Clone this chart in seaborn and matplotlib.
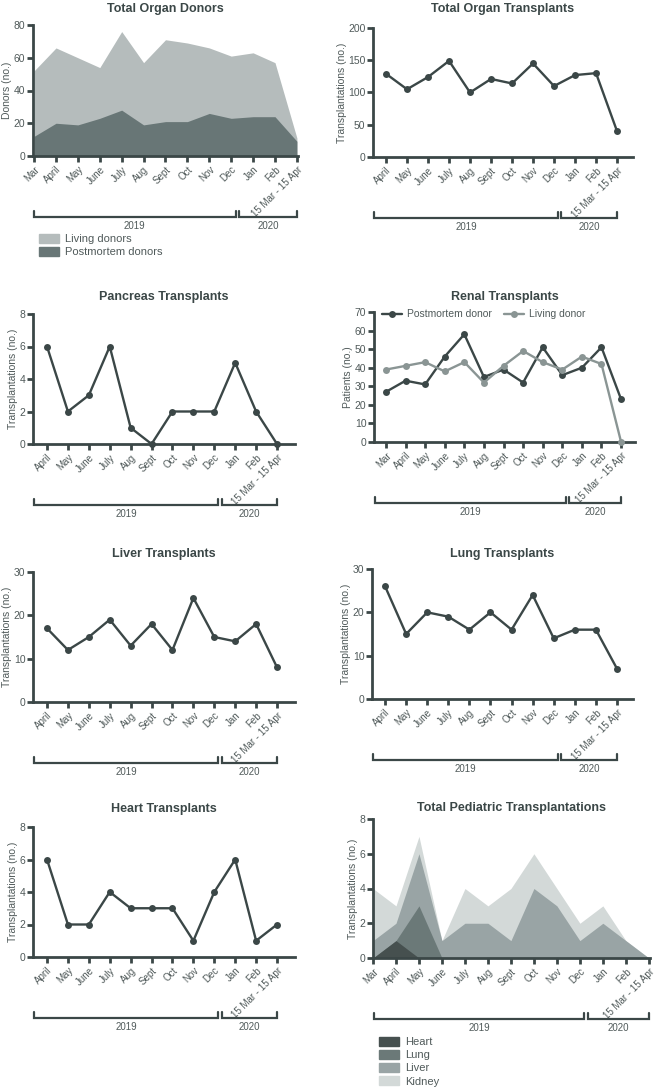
import numpy as np
import pandas as pd
import matplotlib
matplotlib.use("Agg")
import matplotlib.pyplot as plt
from matplotlib import transforms
from matplotlib.patches import Patch
import seaborn as sns

months13 = ["Mar", "April", "May", "June", "July", "Aug", "Sept", "Oct",
            "Nov", "Dec", "Jan", "Feb", "15 Mar - 15 Apr"]
months12 = months13[1:]

donors_postmortem = [12, 20, 19, 23, 28, 19, 21, 21, 26, 23, 24, 24, 9]
donors_living = [40, 46, 41, 31, 48, 38, 50, 48, 40, 38, 39, 33, 2]

total_transplants = [129, 105, 124, 149, 100, 121, 114, 145, 110, 127, 130, 40]
pancreas = [6, 2, 3, 6, 1, 0, 2, 2, 2, 5, 2, 0]
renal_postmortem = [27, 33, 31, 46, 58, 35, 39, 32, 51, 36, 40, 51, 23]
renal_living = [39, 41, 43, 38, 43, 32, 41, 49, 43, 39, 46, 42, 0]
liver = [17, 12, 15, 19, 13, 18, 12, 24, 15, 14, 18, 8]
lung = [26, 15, 20, 19, 16, 20, 16, 24, 14, 16, 16, 7]
heart = [6, 2, 2, 4, 3, 3, 3, 1, 4, 6, 1, 2]

ped_heart = [0, 1, 0, 0, 0, 0, 0, 0, 0, 0, 0, 0, 0]
ped_lung = [0, 0, 3, 0, 0, 0, 0, 0, 0, 0, 0, 0, 0]
ped_liver = [1, 1, 3, 1, 2, 2, 1, 4, 3, 1, 2, 1, 0]
ped_kidney = [3, 1, 1, 0, 2, 1, 3, 2, 1, 1, 1, 0, 0]

DARK = "#3b4747"
TEXT = "#505a5a"
GRAY_LINE = "#8a9594"
LIVING_C = "#b5bcbc"
POST_C = "#687676"
PED_C = ["#46504f", "#6b7978", "#99a4a5", "#d3d9d8"]

sns.set_style("ticks")
plt.rcParams["font.family"] = ["Liberation Sans", "DejaVu Sans"]
plt.rcParams["text.color"] = TEXT
plt.rcParams["axes.labelcolor"] = TEXT
plt.rcParams["xtick.color"] = DARK
plt.rcParams["ytick.color"] = DARK
plt.rcParams["xtick.labelcolor"] = TEXT
plt.rcParams["ytick.labelcolor"] = TEXT

W, H = 655, 1089
fig = plt.figure(figsize=(W / 100, H / 100), dpi=100)


def make_ax(l, t, r, b):
    ax = fig.add_axes([l / W, 1 - b / H, (r - l) / W, (b - t) / H])
    ax.h_px = b - t
    return ax


def style(ax, labels, title, ylabel, yticks, xlim, pad):
    sns.despine(ax=ax)
    for s in ["left", "bottom"]:
        ax.spines[s].set_linewidth(2)
        ax.spines[s].set_color(DARK)
        ax.spines[s].set_zorder(5)
    ax.tick_params(width=2, length=4, labelsize=7.5)
    ax.set_xticks(range(len(labels)))
    ax.set_xticklabels(labels, rotation=45, ha="right", rotation_mode="anchor", fontsize=7)
    ax.tick_params(axis="x", pad=2)
    ax.tick_params(axis="y", pad=1.5)
    ax.set_yticks(yticks)
    ax.set_ylim(0, yticks[-1])
    ax.set_xlim(*xlim)
    ax.set_xlabel("")
    ax.set_ylabel(ylabel, fontsize=7.5, labelpad=1)
    ax.set_title(title, fontsize=9, fontweight="bold", color=DARK, pad=pad * 0.72)


def brackets(ax, n):
    trans = transforms.blended_transform_factory(ax.transData, ax.transAxes)
    h = ax.h_px
    yb, yt, yl = -61 / h, -55 / h, -70 / h
    dec = n - 4
    spans = [(ax.get_xlim()[0] + 0.05, dec + 0.2, "2019"), (dec + 0.35, n - 1, "2020")]
    for x0, x1, lab in spans:
        ax.plot([x0, x0, x1, x1], [yt, yb, yb, yt], transform=trans, clip_on=False,
                color=DARK, lw=1.6, solid_joinstyle="miter")
        ax.text((x0 + x1) / 2, yl, lab, transform=trans, ha="center", va="center",
                fontsize=7, color=TEXT)


def line_panel(box, values, labels, title, ylabel, yticks, xlim, pad):
    ax = make_ax(*box)
    df = pd.DataFrame({"pos": np.arange(len(values)), "value": values})
    sns.lineplot(data=df, x="pos", y="value", ax=ax, color=DARK, lw=1.7, marker="o",
                 markersize=5, markeredgewidth=0, clip_on=False, zorder=6)
    style(ax, labels, title, ylabel, yticks, xlim, pad)
    brackets(ax, len(labels))
    return ax


def patch_legend(handles, labels, x, y):
    fig.legend(handles=handles, labels=labels, loc="upper left",
               bbox_to_anchor=(x / W, 1 - y / H), frameon=False, fontsize=8,
               handlelength=1.8, handleheight=0.9, labelspacing=0.25, borderpad=0,
               handletextpad=0.6, labelcolor=TEXT)


# Total Organ Donors
ax = make_ax(33, 25, 298, 156)
x = np.arange(len(months13))
post = np.array(donors_postmortem)
tot = post + np.array(donors_living)
ax.fill_between(x, 0, tot, color=LIVING_C, lw=0)
ax.fill_between(x, 0, post, color=POST_C, lw=0)
style(ax, months13, "Total Organ Donors", "Donors (no.)", [0, 20, 40, 60, 80], (-0.05, 12.05), 13)
brackets(ax, 13)
patch_legend([Patch(color=LIVING_C), Patch(color=POST_C)],
             ["Living donors", "Postmortem donors"], 33, 228)

# Total Organ Transplants
line_panel((373, 28, 633, 157), total_transplants, months12, "Total Organ Transplants",
           "Transplantations (no.)", [0, 50, 100, 150, 200], (-0.62, 11.76), 16)

# Pancreas
line_panel((33, 314, 295, 444), pancreas, months12, "Pancreas Transplants",
           "Transplantations (no.)", [0, 2, 4, 6, 8], (-0.67, 11.86), 14)

# Renal
ax = make_ax(374, 312, 635, 442)
df = pd.DataFrame({
    "pos": np.concatenate([np.arange(13), np.arange(13)]),
    "value": renal_postmortem + renal_living,
    "donor": ["Postmortem donor"] * 13 + ["Living donor"] * 13,
})
sns.lineplot(data=df, x="pos", y="value", hue="donor",
             hue_order=["Postmortem donor", "Living donor"], palette=[DARK, GRAY_LINE],
             ax=ax, lw=1.7, marker="o", markersize=5, markeredgewidth=0, clip_on=False, zorder=6)
style(ax, months13, "Renal Transplants", "Patients (no.)", list(range(0, 71, 10)), (-0.61, 12.71), 12)
brackets(ax, 13)
handles, labels = ax.get_legend_handles_labels()
ax.legend(handles, labels, loc="upper left", bbox_to_anchor=(0.01, 1.06), ncol=2,
          frameon=False, fontsize=7.5, handlelength=1.9, handletextpad=0.5,
          columnspacing=1.2, borderpad=0, labelcolor=TEXT)

# Liver
line_panel((33, 572, 295, 702), liver, months12, "Liver Transplants",
           "Transplantations (no.)", [0, 10, 20, 30], (-0.67, 11.86), 15)

# Lung
line_panel((372, 569, 633, 699), lung, months12, "Lung Transplants",
           "Transplantations (no.)", [0, 10, 20, 30], (-0.62, 11.76), 12)

# Heart
line_panel((33, 827, 295, 957), heart, months12, "Heart Transplants",
           "Transplantations (no.)", [0, 2, 4, 6, 8], (-0.67, 11.86), 15)

# Pediatric
ax = make_ax(373, 819, 650, 958)
layers = [ped_heart, ped_lung, ped_liver, ped_kidney]
cum = np.cumsum(np.array(layers), axis=0)
for i in range(3, -1, -1):
    ax.fill_between(x, 0, cum[i], color=PED_C[i], lw=0)
style(ax, months13, "Total Pediatric Transplantations", "Transplantations (no.)",
      [0, 2, 4, 6, 8], (0, 12.05), 8)
brackets(ax, 13)
patch_legend([Patch(color=c) for c in PED_C], ["Heart", "Lung", "Liver", "Kidney"], 373, 1031)

fig.savefig("out.png", dpi=100)
